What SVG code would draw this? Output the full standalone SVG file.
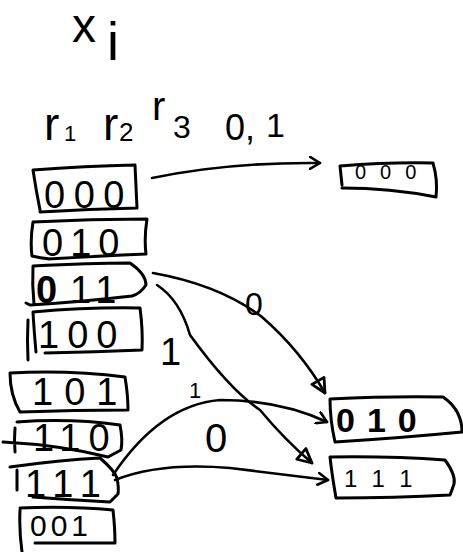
<svg xmlns="http://www.w3.org/2000/svg" width="463" height="552" viewBox="0 0 463 552">
<style>
.b{fill:none;stroke:#000;stroke-width:3;stroke-linecap:round;stroke-linejoin:round}
.c{fill:none;stroke:#000;stroke-width:2.6;stroke-linecap:round;stroke-linejoin:round}
.t{font-family:"Liberation Sans",Arial,sans-serif;fill:#000}
.d{font-size:38px}
</style>
<defs>
<marker id="open" markerWidth="14" markerHeight="14" refX="11" refY="7" orient="auto" markerUnits="userSpaceOnUse">
<path d="M1,1 L11,7 L1,13" fill="none" stroke="#000" stroke-width="2.6" stroke-linecap="round" stroke-linejoin="round"/>
</marker>
<marker id="tri" markerWidth="20" markerHeight="20" refX="16" refY="10" orient="auto" markerUnits="userSpaceOnUse">
<path d="M2,3 L16,10 L2,17 Z" fill="none" stroke="#000" stroke-width="2.8" stroke-linejoin="round"/>
</marker>
</defs>
<rect width="463" height="552" fill="#fff"/>
<g id="title">
<text class="t" x="72" y="42" font-size="48">x</text>
<text class="t" x="107" y="60" font-size="54">i</text>
</g>
<g id="header">
<text class="t" x="44" y="140" font-size="46">r</text><text class="t" x="64" y="141" font-size="22">1</text>
<text class="t" x="103" y="140" font-size="46">r</text><text class="t" x="119" y="141" font-size="26">2</text>
<text class="t" x="152" y="120" font-size="40">r</text><text class="t" x="173" y="138" font-size="32">3</text>
<text class="t" x="225" y="140" font-size="36">0,</text>
<text class="t" x="266" y="137" font-size="34">1</text>
</g>
<g id="L000">
<path class="b" d="M33,170 Q85,166 135,165 L137,208 Q90,209 40,212 M33,170 Q36,190 40,210"/>
<text class="t d" x="44" y="208" letter-spacing="8.5">000</text>
</g>
<g id="L010">
<path class="b" d="M33,222 Q90,219 147,219 Q144,238 146,254 Q100,256 48,259 M33,222 Q30,240 32,256 Q40,258 50,259"/>
<text class="t d" x="42" y="256" letter-spacing="7">010</text>
</g>
<g id="L011">
<path class="b" d="M33,266 Q90,263 130,263 Q146,274 146,285 Q140,294 132,296 Q80,302 30,305 L26,303 M33,266 Q32,285 34,304"/>
<text class="t d" x="36" y="303" font-weight="bold">0</text>
<text class="t d" x="70" y="303" letter-spacing="7">11</text>
</g>
<g id="L100">
<path class="b" d="M33,312 Q90,307 140,308 Q143,330 142,350 Q95,352 45,353 M33,312 Q34,330 36,352 M28,320 Q27,340 28,360"/>
<text class="t d" x="38" y="348" letter-spacing="8">100</text>
</g>
<g id="L101">
<path class="b" d="M10,373 Q70,370 125,377 Q128,395 128,410 Q75,410 20,412 Q10,395 10,373"/>
<text class="t d" x="32" y="405" letter-spacing="11">101</text>
</g>
<g id="L110">
<path class="b" d="M17,422 Q70,418 120,425 Q123,440 121,450 L108,457 Q60,445 3,442 M15,428 Q14,440 15,452"/>
<text class="t d" x="33" y="451" letter-spacing="8">110</text>
</g>
<g id="L111">
<path class="b" d="M10,467 Q60,460 100,458 Q114,470 117,478 Q119,488 118,494 L110,502 Q70,500 33,497 M17,470 L17,490"/>
<text class="t d" x="25" y="497" letter-spacing="9">111</text>
</g>
<g id="L001">
<path class="b" d="M20,508 Q70,506 113,510 Q115,528 115,543 Q70,543 35,543 M20,510 Q19,530 22,552"/>
<text class="t" x="30" y="536" font-size="30" letter-spacing="4">001</text>
</g>
<g id="R000">
<path class="b" d="M340,166 Q390,162 433,163 Q438,180 436,197 Q390,188 342,188 M340,166 L342,185"/>
<text class="t" x="355" y="179" font-size="20" letter-spacing="14">000</text>
</g>
<g id="R010">
<path class="b" d="M330,399 Q390,396 443,397 Q462,410 462,432 Q400,438 335,442 Q330,420 330,399"/>
<text class="t" x="336" y="432" font-size="34" font-weight="bold" letter-spacing="12">010</text>
</g>
<g id="R111">
<path class="b" d="M330,457 Q390,456 445,460 Q456,475 454,484 Q452,490 450,495 Q395,498 336,498 Q332,475 330,457"/>
<text class="t" x="344" y="487" font-size="24" letter-spacing="16">111</text>
</g>
<g id="connectors">
<path class="c" d="M152,178 Q230,162 320,163" marker-end="url(#open)"/>
<path class="c" d="M153,273 Q220,285 262,317 Q300,350 325,393" marker-end="url(#tri)"/>
<path class="c" d="M157,285 Q180,300 190,335 Q230,390 260,410 Q285,440 312,463" marker-end="url(#tri)"/>
<path class="c" d="M113,475 Q160,405 220,400 Q280,400 327,422" marker-end="url(#open)"/>
<path class="c" d="M115,480 Q160,462 230,468 Q280,474 328,480" marker-end="url(#open)"/>
<text class="t" x="245" y="315" font-size="32">0</text>
<text class="t" x="160" y="365" font-size="38">1</text>
<text class="t" x="189" y="398" font-size="22">1</text>
<text class="t" x="205" y="452" font-size="40">0</text>
</g>
</svg>
